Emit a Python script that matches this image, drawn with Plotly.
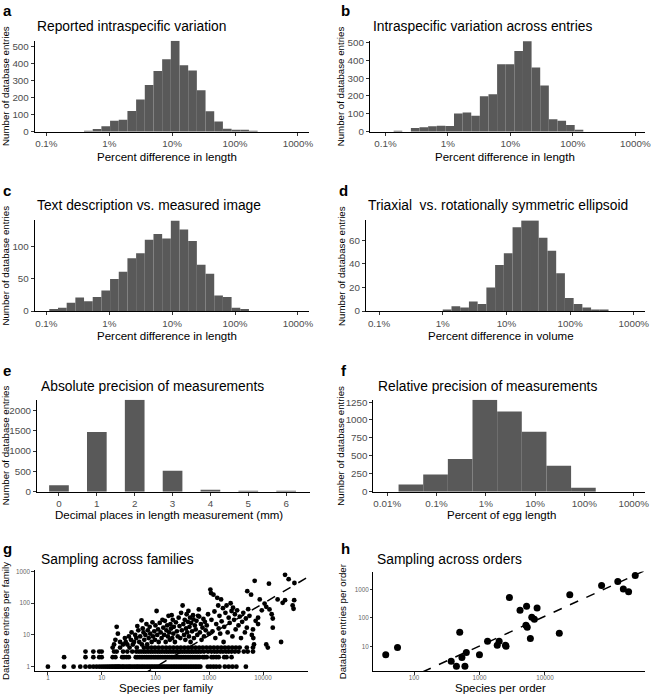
import numpy as np
import plotly.graph_objects as go

W, H = 654, 700

# ---------------- data ----------------
pct_tickvals = [-1, 0, 1, 2, 3]
pct_ticktext = ["0.1%", "1%", "10%", "100%", "1000%"]
f_tickvals = [-2, -1, 0, 1, 2, 3]
f_ticktext = ["0.01%", "0.1%", "1%", "10%", "100%", "1000%"]

# histogram bins: first edge (log10 percent), bin width (log10), counts
a_edge0, a_binw = -0.401, 0.138
a_counts = [2, 15, 31, 63, 69, 121, 188, 273, 354, 423, 531, 388, 358, 242, 119, 60, 17, 6, 8, 4]
b_edge0, b_binw = -0.869, 0.138
b_counts = [3, 0, 20, 24, 30, 33, 31, 101, 107, 89, 199, 210, 378, 378, 452, 507, 360, 258, 70, 61, 37, 5]
c_edge0, c_binw = -0.953, 0.138
c_counts = [3, 5, 13, 21, 15, 22, 32, 50, 61, 82, 90, 111, 120, 113, 141, 127, 109, 72, 58, 24, 22, 5, 3]
d_edge0, d_binw = 0.0, 0.137
d_counts = [1, 4, 3, 8, 6, 20, 39, 49, 71, 77, 77, 62, 51, 32, 11, 6, 3, 1, 1]
e_places = [0, 1, 2, 3, 4, 5, 6]
e_counts = [160, 1470, 2260, 515, 35, 3, 1]
f_edge0, f_binw = -1.77, 0.5
f_counts = [100, 240, 455, 1281, 1120, 836, 362, 55]

# panel g: species per family vs database entries per family
fam_species_1 = [1, 2, 3, 4, 5, 6, 7, 8, 9, 10, 11, 12, 13, 14, 15, 16, 17, 18, 19, 20, 21, 22, 24, 25, 27, 29,
                 31, 33, 35, 38, 41, 44, 47, 50, 54, 58, 62, 67, 72, 77, 83, 89, 96, 103, 111, 119, 128, 138,
                 148, 159, 171, 184, 198, 213, 229, 246, 265, 285, 306, 329, 354, 381, 410, 441, 474, 510,
                 548, 590, 635, 683, 940, 1060, 1200, 1350, 1550, 1950, 2300, 2700, 3200, 4800]
fam_species_2 = [2, 5, 7, 9, 10, 16, 18, 24, 26, 29, 32, 43, 46, 50, 54, 58, 63, 68, 73, 79, 85, 92, 99,
                 107, 115, 124, 134, 145, 156, 168, 181, 196, 211, 228, 246, 265, 286, 308, 333, 359, 387,
                 418, 451, 486, 524, 566, 610, 658, 760, 820, 900, 1100, 1200, 1350, 1500, 1900, 2100, 2600]
fam_species_3 = [5, 7, 9, 10, 17, 19, 25, 30, 37, 44, 49, 54, 60, 66, 73, 81, 89, 98, 108, 119,
                 131, 145, 160, 176, 194, 214, 236, 260, 287, 316, 349, 385, 424, 468, 516, 569, 627, 700,
                 800, 950, 1100, 1250, 1400, 1600, 1800, 2050, 2300, 2600, 3000, 3500, 4400, 5200, 6500]
fam_species_4 = [16, 22, 33, 45, 61, 72, 84, 98, 115, 135, 158, 185, 216, 253, 296, 346,
                 405, 474, 555, 650, 760, 890, 1040, 1220, 1430, 1670, 1960, 2290, 2680, 3140, 3680,
                 5000, 6500]
fam_species_hi = [17, 18, 19, 20, 22, 25, 27, 28, 30, 32, 35, 36, 38, 40, 42, 44, 46, 48, 50, 52, 55, 56, 58, 60,
                  62, 65, 68, 70, 72, 75, 78, 80, 85, 88, 90, 95, 98, 100, 105, 108, 112, 115, 120, 125, 130,
                  135, 140, 145, 150, 155, 160, 165, 170, 175, 180, 185, 190, 195, 200,
                  205, 210, 215, 220, 230, 240, 250, 260, 270, 280, 290, 300, 310, 320, 330, 340, 350, 360,
                  370, 380, 390, 400, 410, 420, 430, 440, 450, 460, 480, 500, 510, 520, 540, 560, 580, 600,
                  620, 640, 650, 670, 700, 720, 750, 780, 800, 830, 860, 900, 950, 980,
                  1050, 1080, 1100, 1150, 1200, 1250, 1300, 1350, 1410, 1470, 1500, 1550, 1600, 1660, 1700,
                  1800, 1850, 1900, 2000, 2100, 2200, 2300, 2400, 2500, 2600, 2700, 2770, 2900, 3000, 3100,
                  3300, 3500, 3700, 3900, 4100, 4300, 4600, 4800, 5000,
                  5100, 5300, 5600, 6000, 6200, 6500, 6600, 6800, 7000, 7300, 8100, 8100, 8700, 9500, 10700,
                  11500, 11500, 12300, 12900, 13200, 14500, 15200, 15200, 18700, 21700, 23200, 25700, 25700,
                  30000, 35600, 37000, 38000, 38400]
fam_entries_hi = [5, 7, 18, 11, 6, 5, 8, 6, 5, 9, 7, 12, 5, 6, 10, 8, 19, 14, 6, 9, 29, 5, 16, 12,
                  7, 10, 22, 5, 14, 8, 18, 11, 6, 25, 9, 13, 7, 20, 57, 10, 15, 6, 24, 12, 8,
                  30, 17, 10, 28, 6, 14, 20, 9, 40, 12, 7, 22, 16, 42,
                  8, 30, 11, 18, 6, 25, 13, 9, 35, 19, 8, 50, 14, 85, 22, 10, 30, 7,
                  16, 45, 12, 26, 57, 9, 18, 35, 6, 24, 13, 42, 31, 8, 20, 15, 28, 10,
                  40, 64, 38, 12, 22, 7, 17, 32, 9, 26, 14, 20, 45, 11,
                  270, 210, 30, 13, 187, 55, 8, 22, 148, 85, 16, 40, 11, 132, 27,
                  70, 6, 18, 50, 85, 12, 35, 24, 100, 57, 9, 72, 30, 45, 15,
                  60, 20, 38, 8, 26, 50, 12, 33, 17,
                  240, 65, 40, 187, 10, 15, 8, 5, 510, 28, 35, 22, 132, 60, 98,
                  77, 5, 4, 415, 64, 45, 33, 17, 132, 6, 103, 790, 125,
                  575, 85, 67, 125, 435]

# panel h: species per order vs database entries per order
order_species = [37, 56, 370, 445, 540, 500, 630, 600, 1000, 1330, 1870, 2000, 2500, 2550, 2870, 4170,
                 5250, 5130, 5370, 6000, 6300, 6900, 7600, 16600, 24000, 73500, 130000, 158000, 190000, 240000]
order_entries = [5, 9, 3, 2, 4, 31, 6, 2, 5, 15, 11, 15, 11, 10, 525, 187,
                 257, 55, 47, 19, 105, 89, 225, 29, 655, 1380, 1900, 1050, 830, 3090]

# log-log regression lines (slope, intercept in log10 units)
g_slope, g_intercept = 1.0, -2.01
h_slope, h_intercept = 1.05, -2.14

# ---------------- helpers ----------------
FONT = "Liberation Sans, Arial, Helvetica, sans-serif"
BAR = "#595959"
TITLE_SIZE = 13.8


def dx(px):
    return px / W


def dy(py):
    return 1 - py / H


fig = go.Figure()
layout = dict(width=W, height=H, margin=dict(l=0, r=0, t=0, b=0),
              paper_bgcolor="white", plot_bgcolor="white", showlegend=False,
              font=dict(family=FONT, color="black"))
annotations = []

def axis(n, xdom, ydom, xr, yr, xtv=None, xtt=None, ytv=None, ytt=None,
         xlog=False, ylog=False, tick_size=9.8, tick_color="#4d4d4d", ticklen=3, xstandoff=0):
    common = dict(showline=True, linecolor="black", linewidth=1, ticks="outside", ticklen=ticklen,
                  tickcolor="#333333", tickwidth=1, showgrid=False, zeroline=False,
                  tickfont=dict(size=tick_size, color=tick_color, family=FONT))
    xa = dict(common, domain=[dx(xdom[0]), dx(xdom[1])], range=xr, anchor=f"y{n}")
    if xstandoff:
        xa["ticklabelstandoff"] = xstandoff
    ya = dict(common, domain=[dy(ydom[1]), dy(ydom[0])], range=yr, anchor=f"x{n}")
    if xlog:
        xa["type"] = "log"
    if ylog:
        ya["type"] = "log"
    if xtv is not None:
        xa.update(tickmode="array", tickvals=xtv, ticktext=xtt)
    if ytv is not None:
        ya.update(tickmode="array", tickvals=ytv, ticktext=ytt)
    layout[f"xaxis{n}"] = xa
    layout[f"yaxis{n}"] = ya


def hist(n, edge0, binw, counts):
    c = np.asarray(counts, dtype=float)
    centers = edge0 + binw * (np.arange(len(c)) + 0.5)
    fig.add_trace(go.Bar(x=centers, y=c, width=binw, marker=dict(color=BAR, line=dict(width=0)),
                         xaxis=f"x{n}", yaxis=f"y{n}", hoverinfo="skip"))


def texts(letter, lx, ly, title, tx, ty, xtitle, xtx, xty, ytitle, ytx, yty, xt_size=11.5, yt_size=9.7,
          xt_anchor="middle"):
    annotations.append(dict(text=f"<b>{letter}</b>", x=dx(lx), y=dy(ly), xref="paper", yref="paper",
                            xanchor="left", yanchor="middle", showarrow=False,
                            font=dict(size=15, family=FONT, color="black")))
    annotations.append(dict(text=title, x=dx(tx), y=dy(ty), xref="paper", yref="paper",
                            xanchor="left", yanchor="middle", showarrow=False,
                            font=dict(size=TITLE_SIZE, family=FONT, color="black")))
    annotations.append(dict(text=xtitle, x=dx(xtx), y=dy(xty), xref="paper", yref="paper",
                            xanchor="center", yanchor=xt_anchor, showarrow=False, borderpad=0,
                            font=dict(size=xt_size, family=FONT, color="black")))
    annotations.append(dict(text=ytitle, x=dx(ytx), y=dy(yty), xref="paper", yref="paper",
                            xanchor="center", yanchor="middle", showarrow=False, textangle=-90,
                            font=dict(size=yt_size, family=FONT, color="black")))


# ---------------- panel a ----------------
hist(1, a_edge0, a_binw, a_counts)
axis(1, (35, 311), (37.3, 129.3), [-1.185, 3.17], [0, 531], pct_tickvals, pct_ticktext,
     [0, 100, 200, 300, 400, 500], ["0", "100", "200", "300", "400", "500"])
texts("a", 1, 7, "Reported intraspecific variation", 35, 23, "Percent difference in length", 168, 155,
      "Number of database entries", 6, 83)

# ---------------- panel b ----------------
hist(2, b_edge0, b_binw, b_counts)
axis(2, (372.7, 650), (37.3, 129.3), [-1.25, 3.155], [0, 509], pct_tickvals, pct_ticktext,
     [0, 100, 200, 300, 400, 500], ["0", "100", "200", "300", "400", "500"])
texts("b", 342, 7, "Intraspecific variation across entries", 374, 23, "Percent difference in length", 509, 155,
      "Number of database entries", 344, 83)

# ---------------- panel c ----------------
hist(3, c_edge0, c_binw, c_counts)
axis(3, (35, 311), (219.3, 311), [-1.185, 3.17], [0, 141], pct_tickvals, pct_ticktext,
     [0, 50, 100], ["0", "50", "100"])
texts("c", 1, 189, "Text description vs. measured image", 35, 204, "Percent difference in length", 168, 336,
      "Number of database entries", 6, 265)

# ---------------- panel d ----------------
hist(4, d_edge0, d_binw, d_counts)
axis(4, (368.7, 650), (219.3, 311), [-1.207, 3.176], [0, 76.7], pct_tickvals, pct_ticktext,
     [0, 20, 40, 60], ["0", "20", "40", "60"])
texts("d", 340, 189, "Triaxial  vs. rotationally symmetric ellipsoid", 369, 204, "Percent difference in volume",
      505, 336, "Number of database entries", 344, 265)

# ---------------- panel e ----------------
fig.add_trace(go.Bar(x=e_places, y=e_counts, width=0.52, marker=dict(color=BAR, line=dict(width=0)),
                     xaxis="x5", yaxis="y5", hoverinfo="skip"))
axis(5, (37.3, 312), (401, 494), [-0.58, 6.62], [0, 2260], e_places, [str(v) for v in e_places],
     [0, 500, 1000, 1500, 2000], ["0", "500", "1000", "1500", "2000"])
texts("e", 1, 371, "Absolute precision of measurements", 39, 387,
      "Decimal places in length measurement (mm)", 170, 518, "Number of database entries", 5, 447)

# ---------------- panel f ----------------
hist(6, f_edge0, f_binw, f_counts)
axis(6, (376.3, 650), (401, 494), [-2.28, 3.23], [0, 1281], f_tickvals, f_ticktext,
     [0, 250, 500, 750, 1000, 1250], ["0", "250", "500", "750", "1000", "1250"])
texts("f", 342, 371, "Relative precision of measurements", 379, 387, "Percent of egg length", 505, 518,
      "Number of database entries", 343, 447)

# ---------------- panel g ----------------
g_x = np.array(fam_species_1 + fam_species_2 + fam_species_3 + fam_species_4 + fam_species_hi, dtype=float)
g_y = np.array([1] * len(fam_species_1) + [2] * len(fam_species_2) + [3] * len(fam_species_3)
               + [4] * len(fam_species_4) + fam_entries_hi, dtype=float)
g_xr = [-0.245, 4.83]
g_lx = 10 ** np.array(g_xr)
fig.add_trace(go.Scatter(x=g_lx, y=10 ** (g_intercept + g_slope * np.log10(g_lx)), mode="lines",
                         line=dict(color="black", width=1.5, dash="dash"), xaxis="x7", yaxis="y7",
                         hoverinfo="skip"))
fig.add_trace(go.Scatter(x=g_x, y=g_y, mode="markers", marker=dict(color="black", size=4.8),
                         xaxis="x7", yaxis="y7", hoverinfo="skip", cliponaxis=False))
axis(7, (35, 310), (573, 676), g_xr, [-0.146, 3.06], [1, 10, 100, 1000, 10000],
     ["1", "10", "100", "1000", "10000"], [1, 10, 100, 1000], ["1", "10", "100", "1000"],
     xlog=True, ylog=True, tick_size=6.3, tick_color="#666666", ticklen=2.5, xstandoff=-2)
texts("g", 1, 552, "Sampling across families", 39, 563, "Species per family", 167, 700,
      "Database entries per family", 6, 625, xt_size=11.5, xt_anchor="bottom")

# ---------------- panel h ----------------
h_xr = [1.38, 5.53]
h_lx = 10 ** np.array(h_xr)
fig.add_trace(go.Scatter(x=h_lx, y=10 ** (h_intercept + h_slope * np.log10(h_lx)), mode="lines",
                         line=dict(color="black", width=1.5, dash="dash"), xaxis="x8", yaxis="y8",
                         hoverinfo="skip"))
fig.add_trace(go.Scatter(x=order_species, y=order_entries, mode="markers", marker=dict(color="black", size=7),
                         xaxis="x8", yaxis="y8", hoverinfo="skip"))
axis(8, (376.3, 650), (575, 676), h_xr, [0.12, 3.63], [100, 1000, 10000], ["100", "1000", "10000"],
     [10, 100, 1000], ["10", "100", "1000"], xlog=True, ylog=True, tick_size=6.3, tick_color="#666666",
     ticklen=2.5, xstandoff=-2)
texts("h", 342, 552, "Sampling across orders", 378, 563, "Species per order", 504, 700,
      "Database entries per order", 346, 625, xt_size=11.5, xt_anchor="bottom")

layout["annotations"] = annotations
fig.update_layout(**layout)
fig.write_html("out.html", config={"displayModeBar": False},
               post_script="document.body.style.margin='0';document.body.style.overflow='hidden';")
